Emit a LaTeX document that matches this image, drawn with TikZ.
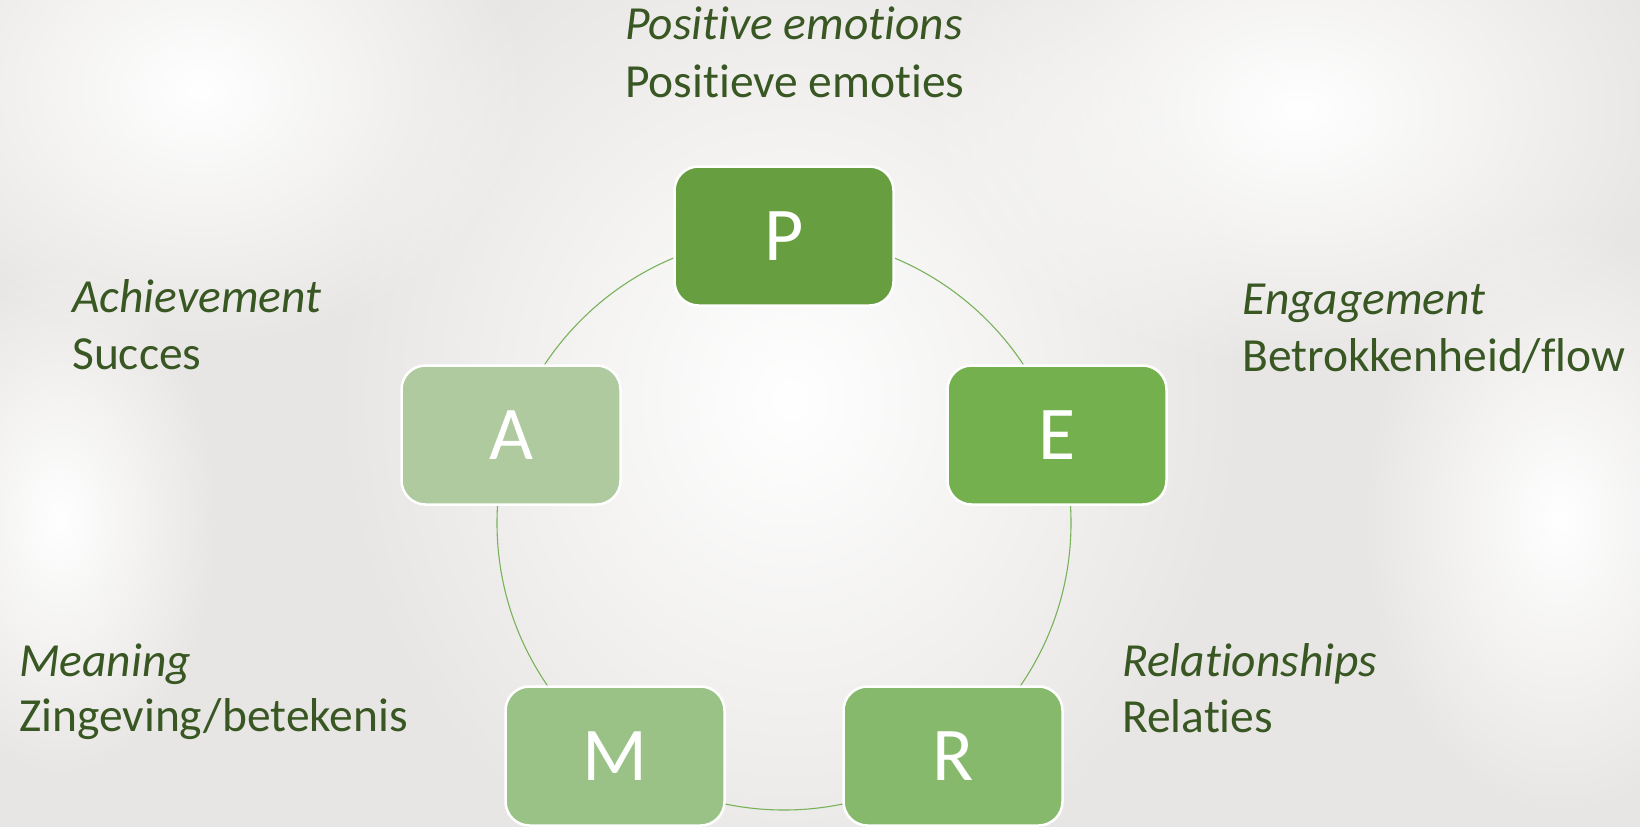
\documentclass[tikz,border=0pt]{standalone}
\usepackage{fontspec}
\setmainfont[Ligatures={NoCommon}]{Carlito}
\usetikzlibrary{fadings}
\definecolor{bgc}{RGB}{232,230,228}
\definecolor{txtgreen}{RGB}{56,87,35}
\definecolor{cP}{RGB}{102,158,64}
\definecolor{cE}{RGB}{117,176,78}
\definecolor{cR}{RGB}{134,185,107}
\definecolor{cM}{RGB}{154,194,134}
\definecolor{cA}{RGB}{174,202,158}
\definecolor{ringc}{RGB}{120,178,90}
\tikzfading[name=softglow, inner color=transparent!0, outer color=transparent!100]
\begin{document}
\begin{tikzpicture}[x=1pt,y=-1pt,
  letterbox/.style={rectangle, rounded corners=24pt, draw=white, line width=2.5pt,
    minimum width=219pt, minimum height=139pt, inner sep=0pt,
    text=white, font=\fontsize{76}{80}\selectfont},
  itlabel/.style={anchor=base west, inner sep=0pt, text=txtgreen, font=\fontsize{47.5}{56}\selectfont\itshape},
  uplabel/.style={anchor=base west, inner sep=0pt, text=txtgreen, font=\fontsize{47.5}{56}\selectfont},
  glow/.style={fill=white, path fading=softglow},
  ring/.style={draw=ringc, line width=1.1pt}]
\useasboundingbox (0,0) rectangle (1640,827);
% background
\fill[bgc] (0,0) rectangle (1640,827);
\begin{scope}
\clip (0,0) rectangle (1640,827);
\fill[glow] (790,400) ellipse (460 and 520);
\fill[glow] (200,90) ellipse (330 and 260);
\fill[glow] (1300,110) ellipse (380 and 260);
\fill[glow] (1560,520) ellipse (200 and 300);
\fill[glow] (60,520) ellipse (160 and 260);
\end{scope}
% ring
\coordinate (c) at (784,523);
\draw[ring] (c) circle (287);
% boxes
\node[letterbox, fill=cP] (P) at (784,236) {P};
\node[letterbox, fill=cE] (E) at (1057,435) {E};
\node[letterbox, fill=cR] (R) at (953,756) {R};
\node[letterbox, fill=cM] (M) at (615,756) {M};
\node[letterbox, fill=cA] (A) at (511,435) {A};
% labels
\node[itlabel] (pit) at (625,39) {Positive emotions};
\node[uplabel] (pnl) at (625,97) {Positieve emoties};
\node[itlabel] (eit) at (1242,314) {Engagement};
\node[uplabel] (enl) at (1242,371) {Betrokkenheid/flow};
\node[itlabel] (rit) at (1122,676) {Relationships};
\node[uplabel] (rnl) at (1122,732) {Relaties};
\node[itlabel] (mit) at (19,676) {Meaning};
\node[uplabel] (mnl) at (19,731) {Zingeving/betekenis};
\node[itlabel] (ait) at (72,312) {Achievement};
\node[uplabel] (anl) at (72,369) {Succes};
\end{tikzpicture}
\end{document}
